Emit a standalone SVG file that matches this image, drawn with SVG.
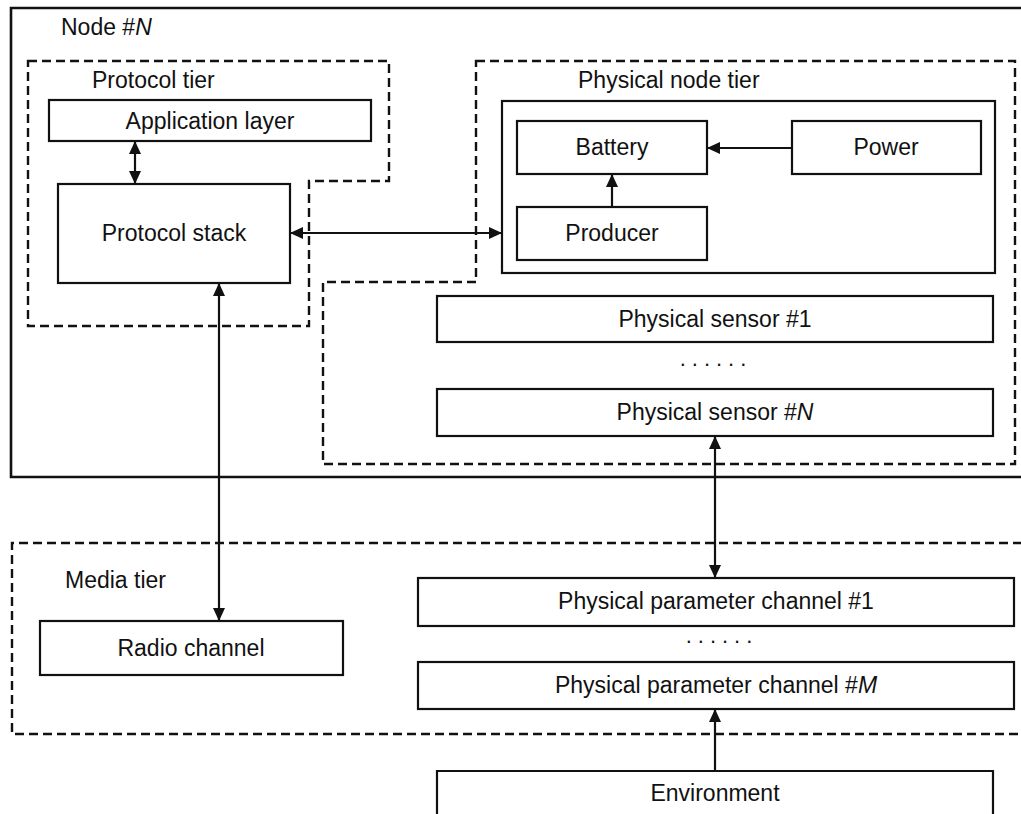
<svg xmlns="http://www.w3.org/2000/svg" width="1021" height="814" viewBox="0 0 1021 814">
  <defs>
    <style>
      .box { fill: none; stroke: #111; stroke-width: 2.2; }
      .frame { fill: none; stroke: #111; stroke-width: 2.6; }
      .tier { fill: none; stroke: #111; stroke-width: 2.4; stroke-dasharray: 9 5; }
      .wire { fill: none; stroke: #111; stroke-width: 2.2; }
      text { font-family: "Liberation Sans", Arial, sans-serif; font-size: 23px; fill: #111; }
      .c { text-anchor: middle; }
      .dots { font-size: 22px; letter-spacing: 6px; }
    </style>
    <marker id="head" markerUnits="userSpaceOnUse" markerWidth="13" markerHeight="12" refX="13" refY="6" orient="auto-start-reverse">
      <path d="M0,0 L13,6 L0,12 z" fill="#111"/>
    </marker>
  </defs>

  <rect width="1021" height="814" fill="#fff"/>

  <!-- Node frame (open on the right) -->
  <g id="node-frame">
    <path class="frame" d="M1022,8 H11 V477 H1022"/>
    <text x="61" y="35">Node #<tspan font-style="italic">N</tspan></text>
  </g>

  <!-- Protocol tier -->
  <g id="protocol-tier">
    <path class="tier" d="M28,61 H389 V181 H309 V326 H28 Z"/>
    <text x="92" y="88">Protocol tier</text>
  </g>
  <g id="application-layer">
    <rect class="box" x="49" y="100" width="322" height="41"/>
    <text class="c" x="210" y="129">Application layer</text>
  </g>
  <g id="protocol-stack">
    <rect class="box" x="58" y="184" width="232" height="99"/>
    <text class="c" x="174" y="241">Protocol stack</text>
  </g>

  <!-- Physical node tier -->
  <g id="physical-node-tier">
    <path class="tier" d="M476,61 H1015 V464 H323 V282 H476 Z"/>
    <text x="578" y="88">Physical node tier</text>
  </g>
  <g id="energy-block">
    <rect class="box" x="502" y="101" width="493" height="172"/>
  </g>
  <g id="battery">
    <rect class="box" x="517" y="121" width="190" height="53"/>
    <text class="c" x="612" y="155">Battery</text>
  </g>
  <g id="power">
    <rect class="box" x="792" y="121" width="189" height="53"/>
    <text class="c" x="886" y="155">Power</text>
  </g>
  <g id="producer">
    <rect class="box" x="517" y="207" width="190" height="53"/>
    <text class="c" x="612" y="241">Producer</text>
  </g>
  <g id="physical-sensor-1">
    <rect class="box" x="437" y="296" width="556" height="46"/>
    <text class="c" x="715" y="327">Physical sensor #1</text>
  </g>
  <g id="sensor-ellipsis">
    <text class="c dots" x="716" y="366">......</text>
  </g>
  <g id="physical-sensor-n">
    <rect class="box" x="437" y="389" width="556" height="47"/>
    <text class="c" x="715" y="420">Physical sensor #<tspan font-style="italic">N</tspan></text>
  </g>

  <!-- Media tier -->
  <g id="media-tier">
    <path class="tier" d="M1022,543 H12 V734 H1022"/>
    <text x="65" y="588">Media tier</text>
  </g>
  <g id="radio-channel">
    <rect class="box" x="40" y="621" width="303" height="54"/>
    <text class="c" x="191" y="656">Radio channel</text>
  </g>
  <g id="parameter-channel-1">
    <rect class="box" x="418" y="578" width="596" height="48"/>
    <text class="c" x="716" y="609">Physical parameter channel #1</text>
  </g>
  <g id="parameter-ellipsis">
    <text class="c dots" x="722" y="643">......</text>
  </g>
  <g id="parameter-channel-m">
    <rect class="box" x="418" y="662" width="596" height="47"/>
    <text class="c" x="716" y="693">Physical parameter channel #<tspan font-style="italic">M</tspan></text>
  </g>
  <g id="environment">
    <path class="box" d="M437,830 V771 H993 V830"/>
    <text class="c" x="715" y="801">Environment</text>
  </g>

  <!-- Connectors -->
  <g id="connectors">
    <line class="wire" x1="135" y1="141" x2="135" y2="184" marker-start="url(#head)" marker-end="url(#head)"/>
    <line class="wire" x1="290" y1="233" x2="502" y2="233" marker-start="url(#head)" marker-end="url(#head)"/>
    <line class="wire" x1="792" y1="148" x2="707" y2="148" marker-end="url(#head)"/>
    <line class="wire" x1="612" y1="207" x2="612" y2="174" marker-end="url(#head)"/>
    <line class="wire" x1="219" y1="283" x2="219" y2="621" marker-start="url(#head)" marker-end="url(#head)"/>
    <line class="wire" x1="715" y1="436" x2="715" y2="578" marker-start="url(#head)" marker-end="url(#head)"/>
    <line class="wire" x1="715" y1="771" x2="715" y2="709" marker-end="url(#head)"/>
  </g>
</svg>
